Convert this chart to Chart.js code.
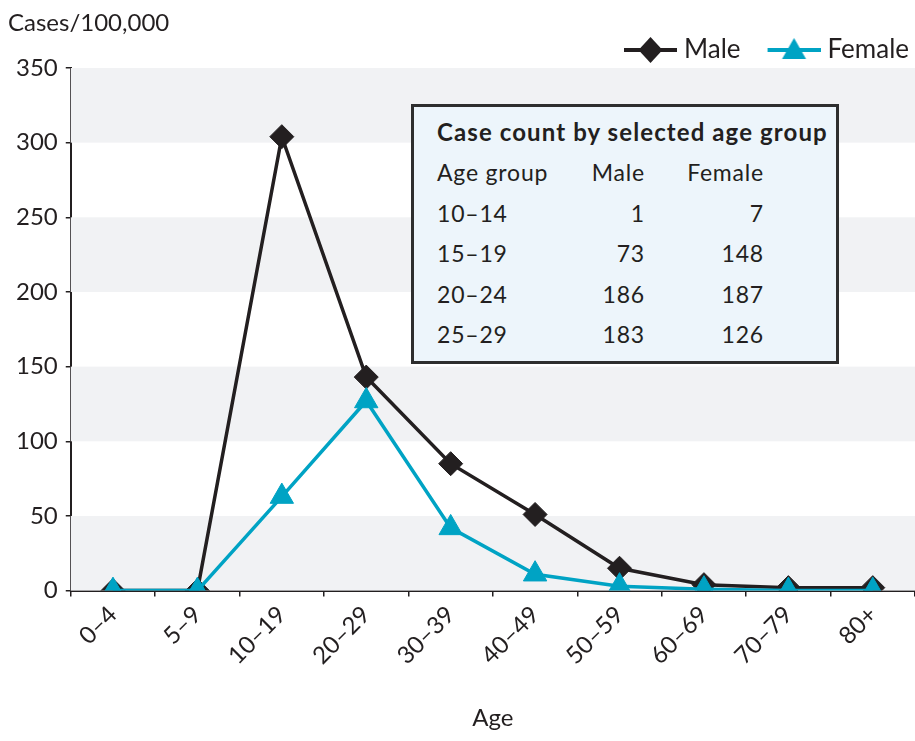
<!DOCTYPE html>
<html>
<head>
<meta charset="utf-8">
<script src="https://cdn.jsdelivr.net/npm/chart.js@4/dist/chart.umd.min.js"></script>
<style>
  html, body { margin: 0; padding: 0; background: #ffffff; }
  #wrap { position: relative; width: 915px; height: 741px; }
  #chart { position: absolute; left: 0; top: 0; }
  #inset {
    position: absolute; left: 411px; top: 104px;
    width: 422px; height: 254px;
    background: #edf5fb; border: 3px solid #2e2e2e;
    font-family: Lato, "Open Sans", sans-serif; color: #231f20;
    letter-spacing: 0.8px;
  }
  #inset .head { padding: 5px 0 0 23px; height: 40px; line-height: 40px; font-size: 24px; font-weight: bold; white-space: nowrap; letter-spacing: 1.1px; }
  #inset table { border-collapse: collapse; margin-left: 23px; font-size: 23px; }
  #inset td { padding: 0; height: 40.5px; line-height: 40px; white-space: nowrap; }
  #inset td.c1 { width: 130px; text-align: left; }
  #inset td.c2 { width: 78px; text-align: right; }
  #inset td.c3 { width: 119px; text-align: right; }
</style>
</head>
<body>
<div id="wrap">
  <canvas id="chart" width="915" height="741"></canvas>
  <div id="inset">
    <div class="head" id="insetTitle"></div>
    <table id="insetTable"></table>
  </div>
</div>
<script>
// Age groups on the x axis
const ageGroups = ['0–4', '5–9', '10–19', '20–29', '30–39', '40–49', '50–59', '60–69', '70–79', '80+'];
// Rates per 100,000
const maleRate   = [0, 0, 304, 143, 85, 51, 15, 4, 2, 2];
const femaleRate = [0, 0, 63, 127, 42, 11, 3, 1, 0, 0];
// Y axis range and tick step
const yMin = 0, yMax = 350, yStep = 50;
// Shaded horizontal bands (value ranges)
const bandStarts = [0, 100, 200, 300];

// Case count inset table
const insetTitle = 'Case count by selected age group';
const insetHeader = ['Age group', 'Male', 'Female'];
const insetGroups = ['10–14', '15–19', '20–24', '25–29'];
const insetMale   = [1, 73, 186, 183];
const insetFemale = [7, 148, 187, 126];

const INK = '#231f20';
const TEAL = '#00a3c4';
const FONT = 'Lato, "Open Sans", sans-serif';
const FONT_SIZE = 24;
const LEGEND_SIZE = 26;

// Build inset table
document.getElementById('insetTitle').textContent = insetTitle;
(function () {
  const tbl = document.getElementById('insetTable');
  const rows = [insetHeader].concat(insetGroups.map((g, i) => [g, String(insetMale[i]), String(insetFemale[i])]));
  rows.forEach(r => {
    const tr = document.createElement('tr');
    r.forEach((txt, j) => {
      const td = document.createElement('td');
      td.className = 'c' + (j + 1);
      td.textContent = txt;
      tr.appendChild(td);
    });
    tbl.appendChild(tr);
  });
})();

// Legend swatches: a short line with the series marker in the middle.
// The transparent strip on the left spaces the legend entries apart.
const SW_GAP = 27, SW_LINE = 53, SW_W = SW_GAP + SW_LINE, SW_H = 30;
function swatch(color, shape) {
  const c = document.createElement('canvas');
  c.width = SW_W; c.height = SW_H;
  const g = c.getContext('2d');
  const cy = SW_H / 2, cx = SW_GAP + SW_LINE / 2;
  g.strokeStyle = color; g.lineWidth = 4;
  g.beginPath(); g.moveTo(SW_GAP, cy); g.lineTo(SW_W, cy); g.stroke();
  g.fillStyle = color;
  g.beginPath();
  if (shape === 'diamond') {
    g.moveTo(cx, cy - 13); g.lineTo(cx + 12, cy); g.lineTo(cx, cy + 13); g.lineTo(cx - 12, cy);
  } else {
    g.moveTo(cx, cy - 12); g.lineTo(cx + 12, cy + 9); g.lineTo(cx - 12, cy + 9);
  }
  g.closePath(); g.fill();
  return c;
}
const swatches = [swatch(INK, 'diamond'), swatch(TEAL, 'triangle')];

// Alternating grey bands behind the lines
const bandPlugin = {
  id: 'bands',
  beforeDatasetsDraw(chart) {
    const { ctx, chartArea, scales } = chart;
    ctx.save();
    ctx.fillStyle = '#f1f2f4';
    bandStarts.forEach(v => {
      const y1 = scales.y.getPixelForValue(v + yStep);
      const y0 = scales.y.getPixelForValue(v);
      ctx.fillRect(chartArea.left, y1, chartArea.right - chartArea.left, y0 - y1);
    });
    ctx.restore();
  }
};

// Slightly wider letter spacing for all canvas text
const spacingPlugin = {
  id: 'spacing',
  beforeInit(chart) { chart.ctx.letterSpacing = '0.8px'; }
};

new Chart(document.getElementById('chart'), {
  type: 'line',
  data: {
    labels: ageGroups,
    datasets: [
      {
        label: 'Male', data: maleRate, order: 1,
        borderColor: INK, backgroundColor: INK, borderWidth: 3.5,
        pointStyle: 'rectRot', pointRadius: 12, pointBackgroundColor: INK, pointBorderColor: INK, pointBorderWidth: 1
      },
      {
        label: 'Female', data: femaleRate, order: 0,
        borderColor: TEAL, backgroundColor: TEAL, borderWidth: 3.5,
        pointStyle: 'triangle', pointRadius: 13.5, pointBackgroundColor: TEAL, pointBorderColor: TEAL, pointBorderWidth: 1
      }
    ]
  },
  options: {
    responsive: false,
    animation: false,
    events: [],
    layout: { autoPadding: false, padding: { left: 8, right: 0, top: 0, bottom: 8 } },
    elements: { line: { tension: 0 } },
    plugins: {
      tooltip: { enabled: false },
      title: {
        display: true, text: 'Cases/100,000', align: 'start', color: INK,
        font: { family: FONT, size: FONT_SIZE, weight: 'normal' },
        padding: { top: 9, bottom: -6.8 }
      },
      legend: {
        display: true, position: 'top', align: 'end', maxHeight: 37,
        labels: {
          color: INK, font: { family: FONT, size: LEGEND_SIZE },
          usePointStyle: true, pointStyleWidth: SW_W - 12, boxHeight: LEGEND_SIZE, padding: 6,
          generateLabels(chart) {
            return chart.data.datasets.map((ds, i) => ({
              text: ds.label, datasetIndex: i, pointStyle: swatches[i],
              fillStyle: ds.borderColor, strokeStyle: ds.borderColor, lineWidth: 0, fontColor: INK
            }));
          }
        }
      }
    },
    scales: {
      x: {
        type: 'category', offset: true,
        grid: { display: true, drawOnChartArea: false, drawTicks: true, tickLength: 6, color: INK, lineWidth: 1.5, offset: true },
        border: { display: true, color: INK, width: 2 },
        ticks: { color: INK, font: { family: FONT, size: FONT_SIZE }, minRotation: 45, maxRotation: 45, padding: 4 },
        title: { display: true, text: 'Age', color: INK, font: { family: FONT, size: FONT_SIZE }, padding: { top: 30, bottom: 0 } }
      },
      y: {
        min: yMin, max: yMax,
        grid: { display: true, drawOnChartArea: false, drawTicks: true, tickLength: 5, color: INK, lineWidth: 1.5 },
        border: { display: true, color: INK, width: 2 },
        ticks: { stepSize: yStep, color: INK, font: { family: FONT, size: FONT_SIZE }, padding: 8 }
      }
    }
  },
  plugins: [bandPlugin, spacingPlugin]
});
</script>
</body>
</html>
